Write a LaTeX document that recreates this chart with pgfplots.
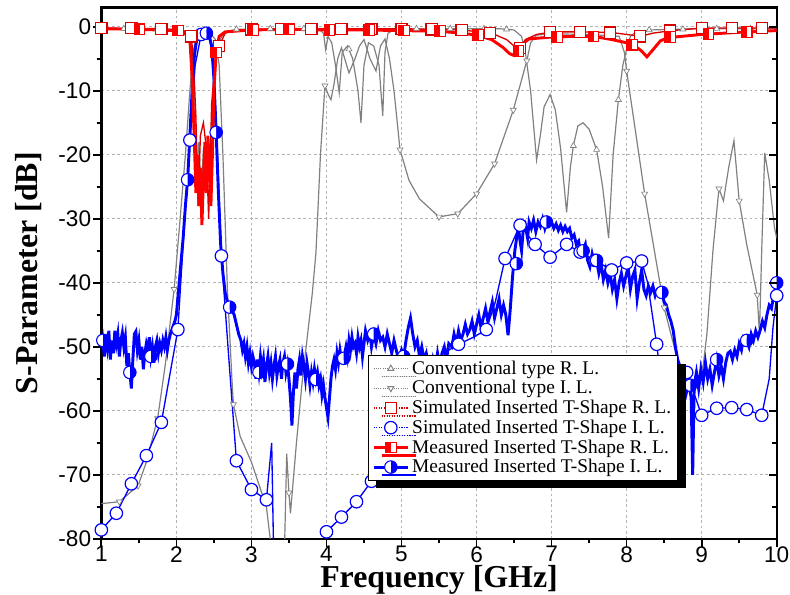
\documentclass[border=0pt]{standalone}
\usepackage{fontspec}
\setmainfont{Liberation Serif}
\newfontfamily\arialfont{Liberation Sans}
\usepackage{pgfplots}
\pgfplotsset{compat=1.18}
\usetikzlibrary{shadows,plotmarks}

\definecolor{convgray}{RGB}{128,128,128}
\definecolor{simred}{RGB}{215,0,0}

% square, left half filled red, right half white
\pgfdeclareplotmark{halfsqL}{%
  \pgfpathrectangle{\pgfqpoint{-\pgfplotmarksize}{-\pgfplotmarksize}}{\pgfqpoint{2\pgfplotmarksize}{2\pgfplotmarksize}}%
  \pgfsetfillcolor{white}%
  \pgfusepathqfillstroke
  \pgfpathrectangle{\pgfqpoint{-\pgfplotmarksize}{-\pgfplotmarksize}}{\pgfqpoint{\pgfplotmarksize}{2\pgfplotmarksize}}%
  \pgfsetfillcolor{red}%
  \pgfusepathqfillstroke
}

\pgfplotsset{
  ConvLine/.style={color=convgray, line width=0.9pt, no markers},
  ConvRLMark/.style={only marks, mark=triangle*, mark size=2.6pt, mark options={fill=white, draw=convgray, line width=0.5pt}},
  ConvILMark/.style={only marks, mark=triangle*, mark size=2.6pt, mark options={rotate=180, fill=white, draw=convgray, line width=0.5pt}},
  SimRLLine/.style={color=simred, line width=1pt, no markers},
  SimRLMark/.style={only marks, mark=square*, mark size=4.2pt, mark options={fill=white, draw=simred, line width=0.9pt}},
  SimILLine/.style={color=blue, line width=1pt, no markers},
  SimILMark/.style={only marks, mark=*, mark size=4.7pt, mark options={fill=white, draw=blue, line width=0.9pt}},
  MeasRLLine/.style={color=red, line width=2.2pt, no markers},
  MeasRLMark/.style={only marks, mark=halfsqL, mark size=4pt, mark options={draw=red, line width=0.8pt}},
  MeasILLine/.style={color=blue, line width=2.2pt, no markers},
  MeasILMark/.style={only marks, mark=halfcircle*, mark size=4.7pt, mark options={rotate=-90, fill=blue, mark color=white, draw=blue, line width=0.8pt}},
}

\begin{document}
\begin{tikzpicture}
\begin{axis}[
  scale only axis, width=508.5pt, height=400pt,
  xmin=1, xmax=10, ymin=-80, ymax=3,
  xtick={1,2,...,10}, ytick={-80,-70,...,0},
  minor x tick num=1, minor y tick num=1,
  xtick pos=bottom, ytick pos=left, tick align=outside,
  major tick length=6pt, minor tick length=3.5pt,
  every tick/.style={black, line width=1.3pt},
  axis line style={line width=1.8pt},
  grid=major, major grid style={dash pattern=on 2pt off 2pt, gray!60, line width=0.5pt},
  ticklabel style={font=\arialfont\fontsize{17}{17}\selectfont, inner sep=1.5pt},
  xticklabel style={text depth=0pt, inner sep=1pt},
  xticklabel shift=-1.5pt,
  /pgf/number format/assume math mode=true,
  xlabel={Frequency [GHz]}, ylabel={S-Parameter [dB]},
  label style={font=\fontsize{24}{24}\selectfont\bfseries},
  xlabel style={at={(axis description cs:0.5,-0.0915)}, anchor=base, inner sep=0pt, text height=15.5pt, text depth=5pt},
  ylabel style={at={(axis description cs:-0.108,0.5)}, anchor=center},
  legend style={at={(axis cs:4.55,-51.3)}, anchor=north west, draw=black, line width=0.6pt,
    fill=white, font=\fontsize{14.6}{15.5}\selectfont, cells={anchor=west}, row sep=-0.8pt,
    inner xsep=3pt, inner ysep=2pt,
    drop shadow={shadow xshift=6pt, shadow yshift=-6pt, opacity=1, fill=black}},
  legend image code/.code={\draw[mark repeat=2, mark phase=2] plot coordinates {(2pt,0pt) (15pt,0pt) (28pt,0pt)};},
]
\coordinate (msw) at (rel axis cs:0,0);
\coordinate (mne) at (rel axis cs:1,1);

\addlegendimage{color=convgray, densely dotted, line width=0.7pt, mark=triangle*, mark options={solid, fill=white, draw=convgray, mark size=2.6pt}}
\addlegendentry{Conventional type R. L.}
\addlegendimage{color=convgray, densely dotted, line width=0.7pt, mark=triangle*, mark options={solid, rotate=180, fill=white, draw=convgray, mark size=2.6pt}}
\addlegendentry{Conventional type I. L.}
\addlegendimage{color=simred, densely dotted, line width=0.9pt, mark=square*, mark options={solid, fill=white, draw=simred, mark size=4pt}}
\addlegendentry{Simulated Inserted T-Shape R. L.}
\addlegendimage{color=blue, densely dotted, line width=0.9pt, mark=*, mark options={solid, fill=white, draw=blue, mark size=4.7pt}}
\addlegendentry{Simulated Inserted T-Shape I. L.}
\addlegendimage{color=red, line width=2.2pt, mark=halfsqL, mark options={solid, draw=red, line width=0.8pt, mark size=4pt}}
\addlegendentry{Measured Inserted T-Shape R. L.}
\addlegendimage{color=blue, line width=2.2pt, mark=halfcircle*, mark options={solid, rotate=-90, fill=blue, mark color=white, draw=blue, line width=0.8pt, mark size=4.7pt}}
\addlegendentry{Measured Inserted T-Shape I. L.}

% conventional return loss
\addplot[ConvLine, forget plot] coordinates {
(1.0,-0.3) (1.5,-0.3) (2.0,-0.4) (2.1,-0.7) (2.15,-1) (2.2,-3) (2.24,-10) (2.27,-22) (2.3,-18) (2.33,-26)
(2.36,-19) (2.39,-24) (2.42,-20) (2.45,-25) (2.49,-12) (2.53,-5) (2.58,-2) (2.65,-0.8) (2.8,-0.4) (3.5,-0.3)
(3.9,-0.4) (3.96,-1) (3.99,-3.6) (4.02,-1.5) (4.07,-2.5) (4.12,-6) (4.17,-10.3) (4.21,-4) (4.28,-3) (4.35,-5)
(4.42,-10) (4.46,-15) (4.5,-6) (4.56,-2.5) (4.63,-3) (4.7,-6) (4.75,-13.9) (4.78,-4) (4.82,-1) (4.9,-0.5)
(5.5,-0.3) (6.3,-0.3) (6.5,-0.5) (6.6,-1.5) (6.65,-4) (6.72,-10) (6.8,-20.8) (6.85,-17) (6.9,-12.5) (6.98,-10.6)
(7.05,-13) (7.12,-19) (7.2,-29) (7.25,-22) (7.29,-18.6) (7.35,-15.5) (7.42,-15) (7.5,-16) (7.6,-19.2) (7.68,-25)
(7.76,-33) (7.82,-20) (7.89,-11.4) (7.95,-6) (8.0,-3.5) (8.05,-1.5) (8.12,-0.8) (8.3,-0.5) (9.0,-0.3) (10,-0.3)};
\addplot[ConvRLMark, forget plot] coordinates {
(1.3,-0.3) (1.75,-0.3) (2.8,-0.4) (3.25,-0.3) (3.7,-0.3) (4.3,-3.5) (5.2,-0.3) (5.65,-0.3) (6.1,-0.3) (6.4,-0.4)
(7.29,-18.6) (7.6,-19.2) (7.89,-11.4) (8.3,-0.5) (8.75,-0.4) (9.2,-0.3) (9.65,-0.3)};

% conventional insertion loss
\addplot[ConvLine, forget plot] coordinates {
(1.0,-74.5) (1.24,-74.2) (1.49,-71.7) (1.6,-68) (1.75,-61.2) (1.85,-53) (1.97,-41) (2.05,-30) (2.12,-20) (2.18,-10)
(2.22,-4) (2.27,-1.5) (2.35,-1) (2.45,-1) (2.52,-2) (2.57,-6) (2.62,-20) (2.68,-41) (2.74,-55) (2.76,-59)
(2.85,-64) (3.0,-68) (3.2,-75) (3.27,-82) (3.44,-82) (3.47,-66.7) (3.5,-72.8) (3.52,-76) (3.6,-65) (3.68,-55)
(3.81,-41.8) (3.86,-35.3) (3.92,-20) (3.98,-9.2) (4.02,-10.5) (4.06,-11.4) (4.1,-9) (4.15,-5) (4.2,-3.3) (4.3,-7.2)
(4.38,-5) (4.44,-3) (4.5,-2) (4.58,-5) (4.66,-6.9) (4.72,-3) (4.78,-1.9) (4.84,-5) (4.9,-10) (4.98,-19.2)
(5.1,-24) (5.24,-26.9) (5.5,-29.7) (5.75,-29.2) (6.0,-26.1) (6.24,-21.4) (6.49,-13) (6.67,-5.3) (6.72,-2.5) (6.8,-1.3)
(7.0,-1.1) (7.5,-1.2) (7.9,-1.5) (7.97,-4) (8.0,-6.9) (8.24,-26.1) (8.5,-43.9) (8.64,-50.3) (8.76,-55.1) (8.88,-58)
(9.02,-52.9) (9.07,-48) (9.15,-35) (9.23,-25.3) (9.29,-27.2) (9.36,-22) (9.43,-17.8) (9.5,-27.2) (9.6,-34) (9.74,-41.9)
(9.77,-48) (9.8,-35) (9.84,-19.7) (9.9,-24) (9.97,-31.4) (10,-33)};
\addplot[ConvILMark, forget plot] coordinates {
(1.24,-74.2) (1.49,-71.7) (1.75,-61.2) (1.97,-41) (2.76,-59) (3.5,-72.8) (3.98,-9.2) (4.98,-19.2) (5.5,-29.7) (5.75,-29.2)
(6.0,-26.1) (6.24,-21.4) (6.49,-13) (6.67,-5.3) (8.0,-6.9) (8.24,-26.1) (8.5,-43.9) (9.23,-25.3) (9.5,-27.2) (9.74,-41.9)};

% simulated insertion loss
\addplot[SimILLine, forget plot] coordinates {
(1.0,-78.6) (1.2,-76) (1.4,-71.4) (1.6,-67) (1.8,-61.8) (2.02,-47.3) (2.1,-32) (2.18,-17.7) (2.25,-6) (2.33,-1.2)
(2.42,-1.0) (2.48,-4) (2.53,-15) (2.6,-35.8) (2.7,-52) (2.8,-67.8) (3.0,-72.3) (3.2,-73.9) (3.27,-65) (3.3,-85)
(3.95,-85) (4.0,-78.9) (4.2,-76.6) (4.4,-74.2) (4.6,-71) (4.8,-67) (5.0,-63) (5.2,-58) (5.36,-54) (5.56,-51)
(5.76,-49.6) (5.96,-48.5) (6.13,-47.3) (6.25,-43) (6.38,-36.2) (6.58,-31) (6.78,-34) (6.98,-36) (7.2,-34) (7.38,-35.2)
(7.58,-36.5) (7.8,-38) (8.0,-36.9) (8.2,-36.6) (8.28,-40) (8.4,-49.6) (8.49,-58) (8.6,-53.5) (8.8,-54) (9.0,-60.7)
(9.2,-59.6) (9.4,-59.5) (9.6,-59.8) (9.8,-60.7) (9.9,-55) (9.95,-47) (10,-42)};
\addplot[SimILMark, forget plot] coordinates {
(1.0,-78.6) (1.2,-76) (1.4,-71.4) (1.6,-67) (1.8,-61.8) (2.02,-47.3) (2.18,-17.7) (2.33,-1.2) (2.6,-35.8) (2.8,-67.8)
(3.0,-72.3) (3.2,-73.9) (4.0,-78.9) (4.2,-76.6) (4.4,-74.2) (4.6,-71) (4.8,-67) (5.0,-63) (5.2,-58) (5.36,-54)
(5.76,-49.6) (6.13,-47.3) (6.38,-36.2) (6.58,-31) (6.78,-34) (6.98,-36) (7.2,-34) (7.38,-35.2) (7.58,-36.5) (7.8,-38)
(8.0,-36.9) (8.2,-36.6) (8.4,-49.6) (8.6,-53.5) (8.8,-54) (9.0,-60.7) (9.2,-59.6) (9.4,-59.5) (9.6,-59.8) (9.8,-60.7) (10,-42)};

% simulated return loss
\addplot[SimRLLine, forget plot] coordinates {
(1.0,-0.2) (1.8,-0.3) (2.1,-0.6) (2.2,-1.5) (2.23,-6) (2.26,-14) (2.29,-28) (2.32,-17) (2.36,-15) (2.4,-19)
(2.43,-30) (2.47,-12) (2.52,-5) (2.57,-3) (2.65,-1) (2.8,-0.5) (3.5,-0.3) (5.0,-0.3) (5.8,-0.5) (6.2,-1)
(6.4,-2) (6.5,-3) (6.58,-3.3) (6.65,-2) (6.8,-1.2) (7.0,-0.8) (7.4,-0.8) (7.8,-0.9) (8.0,-1.2) (8.18,-1.5)
(8.35,-1) (8.6,-0.6) (9.0,-0.2) (10,-0.2)};
\addplot[SimRLMark, forget plot] coordinates {
(1.0,-0.2) (1.4,-0.2) (1.8,-0.3) (2.2,-1.5) (2.57,-3) (3.0,-0.4) (3.4,-0.3) (3.8,-0.3) (4.2,-0.3) (4.6,-0.3)
(5.0,-0.3) (5.4,-0.4) (5.8,-0.5) (6.18,-1) (6.58,-3.3) (6.98,-0.8) (7.38,-0.8) (7.78,-0.9) (8.18,-1.5) (8.58,-0.6)
(9.0,-0.2) (9.4,-0.2) (9.8,-0.2)};

% measured insertion loss
\addplot[MeasILLine, forget plot] coordinates {
(1.00,-50.5) (1.02,-49) (1.04,-51.5) (1.06,-48) (1.08,-50) (1.10,-47.5) (1.12,-52) (1.14,-49) (1.16,-51) (1.18,-47.5)
(1.20,-49.5) (1.22,-48) (1.24,-51.5) (1.26,-49) (1.28,-47.8) (1.30,-50) (1.32,-48.5) (1.34,-53) (1.36,-51) (1.38,-54)
(1.40,-56.5) (1.42,-52) (1.44,-48) (1.46,-47.6) (1.48,-50.5) (1.50,-49) (1.52,-52) (1.54,-50) (1.56,-53.5) (1.58,-51)
(1.60,-49.5) (1.62,-50.5) (1.64,-48.5) (1.66,-51.5) (1.68,-50) (1.70,-52.5) (1.72,-50) (1.74,-49) (1.76,-51) (1.78,-49.5)
(1.80,-50.5) (1.82,-49) (1.84,-50) (1.86,-48.5) (1.88,-50.5) (1.90,-49) (1.92,-48) (1.95,-47) (1.98,-46) (2.00,-45)
(2.03,-41) (2.06,-37) (2.09,-33) (2.12,-28) (2.15,-23.9) (2.18,-17) (2.21,-10) (2.24,-4.5) (2.27,-2) (2.30,-1.2)
(2.35,-0.9) (2.40,-1.0) (2.44,-1.5) (2.47,-3) (2.50,-8) (2.53,-16.5) (2.56,-26) (2.59,-34) (2.62,-38.5) (2.65,-41.5)
(2.68,-43) (2.71,-43.8) (2.74,-44.3) (2.77,-45) (2.80,-46.5) (2.83,-48) (2.86,-49) (2.88,-50.5) (2.90,-49.5) (2.92,-51.5)
(2.94,-50) (2.96,-52.5) (2.98,-51) (3.00,-53) (3.02,-51.5) (3.04,-52.5) (3.06,-55) (3.08,-52) (3.10,-54) (3.12,-51.5)
(3.14,-53.5) (3.16,-52) (3.18,-55.5) (3.20,-53) (3.22,-51.5) (3.24,-54) (3.26,-52.5) (3.28,-55) (3.30,-53) (3.32,-51.5)
(3.34,-54.5) (3.36,-53) (3.38,-52) (3.40,-55) (3.42,-52.5) (3.44,-51.5) (3.46,-54) (3.48,-52.7) (3.50,-55) (3.52,-58)
(3.54,-62.3) (3.56,-57) (3.58,-54) (3.60,-56.5) (3.62,-53.5) (3.64,-52) (3.66,-54.5) (3.68,-51.5) (3.70,-53) (3.72,-55)
(3.74,-52.5) (3.76,-54) (3.78,-56) (3.80,-54) (3.82,-55.5) (3.84,-53.5) (3.86,-55.1) (3.88,-54) (3.90,-56) (3.92,-55)
(3.94,-57.5) (3.96,-56) (3.98,-58) (4.00,-59.5) (4.02,-61) (4.04,-58) (4.06,-55) (4.08,-53) (4.10,-52) (4.12,-53.5)
(4.14,-51) (4.16,-52.5) (4.18,-50.5) (4.20,-52) (4.23,-51.8) (4.26,-50) (4.28,-51.5) (4.30,-49) (4.32,-50.5) (4.34,-48.5)
(4.36,-50) (4.38,-49.5) (4.40,-51) (4.42,-48.5) (4.44,-50) (4.46,-49) (4.48,-51.5) (4.50,-49.5) (4.52,-47.5) (4.55,-49)
(4.58,-48) (4.60,-50) (4.63,-48) (4.66,-49.5) (4.69,-47.5) (4.72,-49) (4.75,-48.5) (4.78,-50) (4.81,-48) (4.84,-49.5)
(4.87,-51) (4.90,-49) (4.93,-50.5) (4.96,-52) (5.00,-50.5) (5.03,-51.5) (5.06,-49) (5.09,-47) (5.12,-45.5) (5.15,-48)
(5.18,-50) (5.21,-49) (5.24,-51.5) (5.27,-50) (5.30,-52) (5.33,-51) (5.36,-53) (5.39,-54.5) (5.42,-52) (5.45,-53.5)
(5.48,-51) (5.51,-53) (5.54,-51) (5.57,-50) (5.60,-52) (5.63,-49.5) (5.67,-50) (5.70,-48) (5.73,-49.5) (5.76,-47.5)
(5.79,-49) (5.82,-48) (5.85,-46.5) (5.88,-48) (5.91,-47.3) (5.94,-46) (5.97,-48) (6.00,-46.5) (6.03,-45) (6.06,-47)
(6.09,-45.5) (6.12,-44) (6.15,-46) (6.18,-44.5) (6.21,-43) (6.24,-45.5) (6.27,-44) (6.30,-42.5) (6.33,-45) (6.36,-43.5)
(6.39,-45) (6.42,-48.2) (6.45,-44) (6.48,-39) (6.51,-35) (6.54,-32.5) (6.56,-31.5) (6.58,-33.5) (6.60,-35) (6.62,-32)
(6.65,-31) (6.68,-33) (6.70,-30.5) (6.73,-31.5) (6.76,-30.2) (6.79,-32) (6.82,-30.5) (6.85,-31.2) (6.88,-30) (6.91,-31.5)
(6.94,-30.2) (6.97,-31) (7.00,-30.5) (7.03,-31.5) (7.06,-30.8) (7.09,-31.8) (7.12,-31) (7.15,-32) (7.18,-31.2) (7.21,-32)
(7.24,-31.5) (7.27,-33) (7.30,-32.5) (7.33,-34) (7.36,-33.5) (7.39,-35.5) (7.42,-35) (7.45,-34) (7.48,-36.5) (7.51,-37.5)
(7.54,-35.5) (7.57,-37) (7.60,-36.5) (7.63,-38.5) (7.66,-37) (7.69,-39.5) (7.72,-38) (7.75,-40) (7.78,-38.5) (7.81,-41)
(7.84,-39.5) (7.87,-42.5) (7.90,-40) (7.93,-38.5) (7.96,-40.5) (7.99,-39) (8.02,-37.5) (8.05,-41) (8.08,-39) (8.11,-38)
(8.14,-42.5) (8.17,-40) (8.20,-38) (8.23,-41) (8.26,-42) (8.29,-40.5) (8.32,-41.5) (8.35,-40.5) (8.38,-42) (8.41,-41)
(8.44,-40.8) (8.47,-41.5) (8.50,-43) (8.53,-43.5) (8.56,-45) (8.59,-46) (8.62,-47.4) (8.65,-50) (8.68,-52) (8.71,-53)
(8.74,-55.5) (8.77,-54) (8.80,-57) (8.83,-55.5) (8.86,-58) (8.88,-70) (8.90,-56) (8.93,-54) (8.96,-56.5) (8.99,-53.5)
(9.02,-55.5) (9.05,-52.5) (9.08,-55) (9.11,-53.5) (9.14,-56) (9.17,-54) (9.20,-52) (9.23,-54.5) (9.26,-53) (9.29,-55)
(9.32,-52.5) (9.35,-51) (9.38,-50.7) (9.41,-52) (9.44,-50.5) (9.47,-51.5) (9.50,-49.5) (9.53,-50.5) (9.56,-48.5) (9.60,-49)
(9.63,-50) (9.66,-48) (9.69,-49) (9.72,-47.5) (9.75,-48.5) (9.78,-47.4) (9.81,-46) (9.84,-47) (9.87,-45) (9.90,-43.5)
(9.93,-44) (9.96,-42) (10.0,-40)};
\addplot[MeasILMark, forget plot] coordinates {
(1.02,-49) (1.38,-54) (1.66,-51.5) (2.15,-23.9) (2.40,-1.0) (2.53,-16.5) (2.71,-43.8) (3.10,-54) (3.48,-52.7) (3.86,-55.1)
(4.23,-51.8) (4.63,-48) (5.03,-51.5) (5.39,-54.5) (6.53,-37) (6.93,-30.5) (7.42,-35) (7.60,-36.5) (8.47,-41.5) (8.85,-56)
(9.20,-52) (9.60,-49) (10.0,-40)};

% measured return loss
\addplot[MeasRLLine, forget plot] coordinates {
(1.0,-0.3) (1.5,-0.4) (2.0,-0.6) (2.1,-0.9) (2.15,-1.5) (2.18,-2) (2.21,-8) (2.24,-18) (2.26,-26) (2.28,-20)
(2.3,-28) (2.32,-22) (2.34,-31) (2.36,-24) (2.38,-18) (2.4,-26) (2.42,-17) (2.44,-22) (2.46,-28) (2.48,-20)
(2.5,-10) (2.53,-4) (2.57,-1.5) (2.65,-0.8) (3.0,-0.5) (3.5,-0.4) (4.0,-0.5) (4.5,-0.5) (5.0,-0.6) (5.5,-0.7)
(5.8,-1) (6.0,-1.3) (6.2,-2) (6.35,-3.2) (6.44,-4.2) (6.5,-4.5) (6.56,-3.8) (6.62,-2.6) (6.7,-1.9) (7.0,-1.6)
(7.3,-1.5) (7.56,-1.5) (7.8,-2) (8.0,-2.5) (8.1,-2.9) (8.2,-3.8) (8.27,-4.7) (8.35,-3.6) (8.45,-2.2) (8.55,-1.7)
(9.0,-1.2) (9.6,-0.8) (10,-0.6)};
\addplot[MeasRLMark, forget plot] coordinates {
(1.51,-0.4) (2.02,-0.6) (2.53,-4) (3.02,-0.5) (3.5,-0.4) (4.04,-0.5) (4.57,-0.5) (5.03,-0.6) (5.51,-0.7) (6.02,-1.3)
(6.56,-3.8) (7.07,-1.6) (7.56,-1.5) (8.07,-2.8) (8.58,-1.6) (9.09,-1.1) (9.6,-0.8)};
\end{axis}

% right-hand ticks, pointing inwards
\begin{axis}[
  scale only axis, width=508.5pt, height=400pt,
  xmin=1, xmax=10, ymin=-80, ymax=3,
  axis line style={draw=none}, xtick=\empty,
  ytick={-80,-70,...,0}, minor y tick num=1, ytick pos=right, tick align=inside,
  yticklabels={}, yticklabel style={opacity=0},
  major tick length=6pt, minor tick length=3.5pt,
  every tick/.style={black, line width=1.3pt},
]
\end{axis}

\pgfresetboundingbox
\path ([shift={(-76.3pt,-41.8pt)}]msw) rectangle ([shift={(10pt,5.7pt)}]mne);
\end{tikzpicture}
\end{document}
